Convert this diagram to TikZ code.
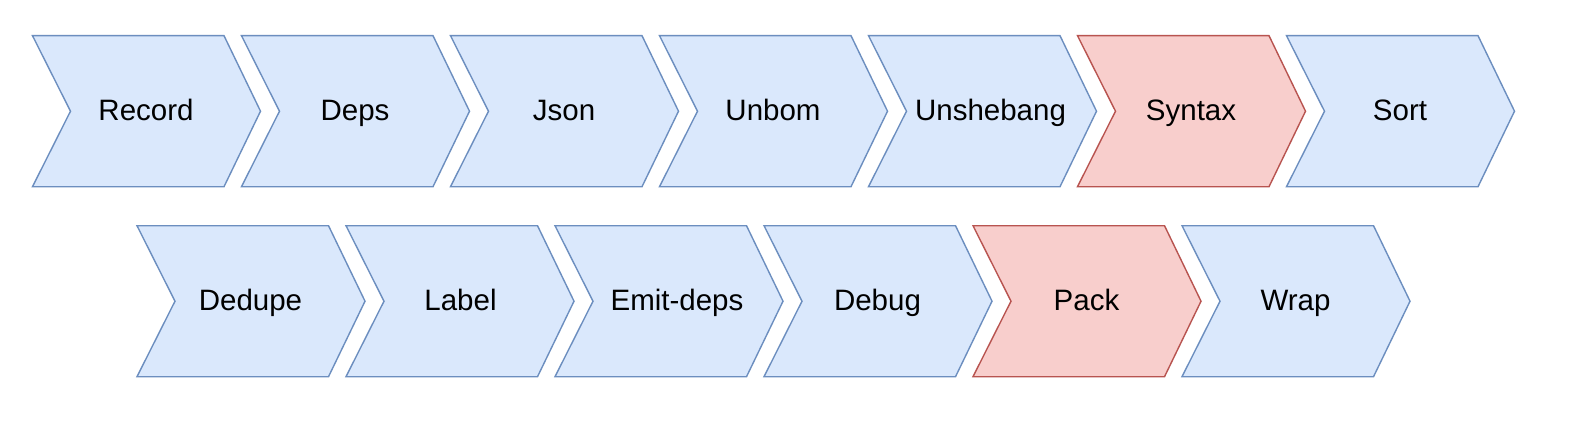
\documentclass[tikz,border=0pt]{standalone}
\usepackage{fontspec}
\setmainfont{Liberation Sans}
\definecolor{bfill}{HTML}{DAE8FC}
\definecolor{bline}{HTML}{6C8EBF}
\definecolor{rfill}{HTML}{F8CECC}
\definecolor{rline}{HTML}{B85450}
\tikzset{
  bluechev/.style={fill=bfill,draw=bline,line width=1.4pt,line join=miter},
  redchev/.style={fill=rfill,draw=rline,line width=1.4pt,line join=miter},
  lbl/.style={inner sep=0pt,anchor=base,font=\fontsize{29.5}{34}\selectfont,text=black}
}
\newcommand\chev[6][113.5]{%
  \draw[#4] (#2,#3) -- ++(191.5,0) -- ++(36.5,75.5) -- ++(-36.5,75.5) -- ++(-191.5,0) -- ++(38,-75.5) -- cycle;
  \node[lbl] (#5) at (#2+#1,#3+84.8) {#6};}
\begin{document}
\begin{tikzpicture}[x=1pt,y=-1pt]
\useasboundingbox[fill=white] (0,0) rectangle (1576,444);
\chev{32.5}{35.7}{bluechev}{record}{Record}
\chev{241.5}{35.7}{bluechev}{deps}{Deps}
\chev{450.5}{35.7}{bluechev}{json}{Json}
\chev{659.5}{35.7}{bluechev}{unbom}{Unbom}
\chev[122]{868.5}{35.7}{bluechev}{unshebang}{Unshebang}
\chev{1077.5}{35.7}{redchev}{syntax}{Syntax}
\chev{1286.5}{35.7}{bluechev}{sort}{Sort}
\chev{137}{225.7}{bluechev}{dedupe}{Dedupe}
\chev[114.5]{346}{225.7}{bluechev}{label}{Label}
\chev[122]{555}{225.7}{bluechev}{emitdeps}{Emit-deps}
\chev{764}{225.7}{bluechev}{debug}{Debug}
\chev{973}{225.7}{redchev}{pack}{Pack}
\chev{1182}{225.7}{bluechev}{wrap}{Wrap}
\end{tikzpicture}
\end{document}
